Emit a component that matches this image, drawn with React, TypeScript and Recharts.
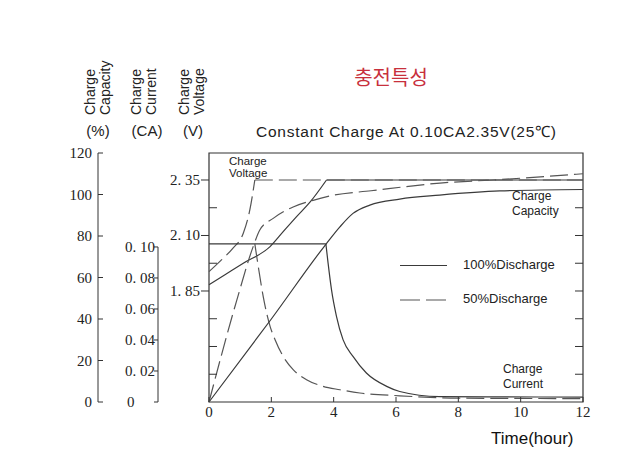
import { LineChart, Line, XAxis, YAxis, ReferenceArea } from 'recharts'

const W = 612
const H = 459
const M = { top: 145, right: 37, bottom: 35, left: 50 }
const X_AXIS_H = 30
const VOLT_W = 51
const CUR_W = 60
const CAP_W = 40
const PLOT_H = H - M.top - M.bottom - X_AXIS_H
const PLOT_W = W - M.left - VOLT_W - CUR_W - CAP_W - M.right

// left axes are laid out in id order, first id next to the plot
const VOLT_ID = 'a_volt'
const CUR_ID = 'b_cur'
const CAP_ID = 'c_cap'

// axis ticks
const hourTicks = [0, 2, 4, 6, 8, 10, 12]
const capTicks = [0, 20, 40, 60, 80, 100, 120]
const curTicks = [0, 0.02, 0.04, 0.06, 0.08, 0.1]
const voltTicks = [1.35, 1.475, 1.6, 1.725, 1.85, 1.975, 2.1, 2.225, 2.35]
const voltLabeled = [1.85, 2.1, 2.35]
const CUR_MAX = 0.1606
const VOLT_MIN = 1.35
const VOLT_MAX = 2.4716

// 100% discharge
const volt100Hours = [0, 0.5, 1.1, 1.96, 2.38, 2.81, 3.24, 3.77]
const volt100Values = [1.878, 1.922, 1.975, 2.05, 2.117, 2.185, 2.25, 2.35]
const volt100FlatHours = [3.77, 12]
const volt100FlatValues = [2.35, 2.35]
const cur100FlatHours = [0, 3.75]
const cur100FlatValues = [0.102, 0.102]
const cur100Hours = [3.75, 3.82, 3.93, 4.09, 4.3, 4.62, 5.05, 5.7, 6.12, 7.4, 9, 12]
const cur100Values = [0.102, 0.0897, 0.0725, 0.0553, 0.0402, 0.0294, 0.0187, 0.0101, 0.0068, 0.0035, 0.0033, 0.0032]
const cap100Hours = [0, 2, 3.75, 4.2, 4.62, 5.16, 6.12, 7.4, 9.33, 12]
const cap100Values = [0, 40, 76, 84.4, 90.9, 94.9, 97.8, 99.7, 101.7, 102.4]

// 50% discharge
const volt50Hours = [0, 0.4, 0.77, 1.1, 1.31, 1.47]
const volt50Values = [1.937, 1.99, 2.043, 2.11, 2.215, 2.35]
const volt50FlatHours = [1.47, 12]
const volt50FlatValues = [2.35, 2.35]
const cur50Hours = [1.47, 1.58, 1.74, 1.96, 2.12, 2.38, 2.7, 3.13, 3.66, 4.2, 4.84, 6.12, 8, 12]
const cur50Values = [0.102, 0.0875, 0.068, 0.0488, 0.0402, 0.0294, 0.0209, 0.0144, 0.0101, 0.0079, 0.0058, 0.004, 0.0025, 0.0022]
const cap50Hours = [0, 0.89, 1.42, 1.63, 2.06, 2.7, 3.34, 3.98, 5.2, 7.41, 9.33, 12]
const cap50Values = [0, 49, 75, 82.9, 88.5, 94, 97.2, 99.6, 101.8, 105.5, 107.2, 110]

const pts = (hours: number[], values: number[]) => hours.map((t, i) => ({ t, v: values[i] }))

const INK = '#333'
const SERIF = '"Liberation Serif", "DejaVu Serif", serif'
const SANS = '"Liberation Sans", Arial, sans-serif'
const solid = { stroke: '#3a3a3a', strokeWidth: 1.2 }
const dashed = { stroke: '#555', strokeWidth: 1.2, strokeDasharray: '18 6' }

const curStep = (PLOT_H * 0.02) / CUR_MAX

function CapTick({ x, y, payload }: any) {
  return (
    <g>
      <line x1={x} y1={y} x2={x + 5} y2={y} stroke={INK} />
      <text x={x - 6} y={y + 5} textAnchor="end" fontFamily={SERIF} fontSize={15} fill="#222">
        {payload.value}
      </text>
    </g>
  )
}

function CurTick({ x, y, payload }: any) {
  const v = payload.value
  const label = v === 0 ? '0' : v.toFixed(2).replace('.', '. ')
  return (
    <g>
      <line x1={x - 4} y1={y} x2={x} y2={y} stroke={INK} />
      {v > 0 && <line x1={x} y1={y} x2={x} y2={y + curStep} stroke={INK} />}
      <text x={v === 0 ? x - 31 : x - 33} y={y + 5} textAnchor="start" fontFamily={SERIF} fontSize={15} fill="#222">
        {label}
      </text>
    </g>
  )
}

function VoltTick({ x, y, payload }: any) {
  const v = payload.value
  const labeled = voltLabeled.some((l) => Math.abs(l - v) < 1e-6)
  const edge = Math.abs(v - VOLT_MIN) < 1e-6
  return (
    <g>
      {labeled && <line x1={x - 8} y1={y} x2={x} y2={y} stroke={INK} />}
      {!labeled && !edge && <line x1={x} y1={y} x2={x + 8} y2={y} stroke={INK} />}
      {!edge && Math.abs(v - 2.35) > 1e-6 && (
        <line x1={x + PLOT_W - 8} y1={y} x2={x + PLOT_W} y2={y} stroke={INK} />
      )}
      {labeled && (
        <text x={x - 9} y={y + 5} textAnchor="end" fontFamily={SERIF} fontSize={15} fill="#222">
          {v.toFixed(2).replace('.', '. ')}
        </text>
      )}
    </g>
  )
}

function HourTick({ x, y, payload }: any) {
  return (
    <g>
      <line x1={x} y1={y} x2={x} y2={y - 5} stroke={INK} />
      <text x={x} y={y + 15} textAnchor="middle" fontFamily={SERIF} fontSize={15} fill="#222">
        {payload.value}
      </text>
    </g>
  )
}

function RotLabel({ x, y, text }: { x: number; y: number; text: string }) {
  return (
    <text x={x} y={y} transform={`rotate(-90 ${x} ${y})`} fontFamily={SANS} fontSize={14} fill="#222">
      {text}
    </text>
  )
}

export default function App() {
  return (
    <div style={{ position: 'relative', width: W, height: H }}>
      <LineChart width={W} height={H} margin={M}>
        <XAxis
          dataKey="t"
          type="number"
          domain={[0, 12]}
          ticks={hourTicks}
          height={X_AXIS_H}
          axisLine={false}
          tickLine={false}
          tickSize={0}
          tickMargin={0}
          tick={(p: any) => <HourTick {...p} />}
        />
        <YAxis
          yAxisId={VOLT_ID}
          type="number"
          domain={[VOLT_MIN, VOLT_MAX]}
          ticks={voltTicks}
          width={VOLT_W}
          axisLine={false}
          tickLine={false}
          tickSize={0}
          tickMargin={0}
          interval={0}
          tick={(p: any) => <VoltTick {...p} />}
        />
        <YAxis
          yAxisId={CUR_ID}
          type="number"
          domain={[0, CUR_MAX]}
          ticks={curTicks}
          width={CUR_W}
          axisLine={false}
          tickLine={false}
          tickSize={0}
          tickMargin={0}
          interval={0}
          tick={(p: any) => <CurTick {...p} />}
        />
        <YAxis
          yAxisId={CAP_ID}
          type="number"
          domain={[0, 120]}
          ticks={capTicks}
          width={CAP_W}
          axisLine={{ stroke: INK }}
          tickLine={false}
          tickSize={0}
          tickMargin={0}
          interval={0}
          tick={(p: any) => <CapTick {...p} />}
        />
        <ReferenceArea yAxisId={CAP_ID} x1={0} x2={12} y1={0} y2={120} fill="none" stroke={INK} strokeWidth={1.2} />

        <Line yAxisId={VOLT_ID} data={pts(volt100Hours, volt100Values)} dataKey="v" type="monotone" dot={false} activeDot={false} isAnimationActive={false} {...solid} />
        <Line yAxisId={VOLT_ID} data={pts(volt100FlatHours, volt100FlatValues)} dataKey="v" type="linear" dot={false} activeDot={false} isAnimationActive={false} {...solid} />
        <Line yAxisId={VOLT_ID} data={pts(volt50Hours, volt50Values)} dataKey="v" type="monotone" dot={false} activeDot={false} isAnimationActive={false} {...dashed} />
        <Line yAxisId={VOLT_ID} data={pts(volt50FlatHours, volt50FlatValues)} dataKey="v" type="linear" dot={false} activeDot={false} isAnimationActive={false} {...dashed} />

        <Line yAxisId={CUR_ID} data={pts(cur100FlatHours, cur100FlatValues)} dataKey="v" type="linear" dot={false} activeDot={false} isAnimationActive={false} {...solid} />
        <Line yAxisId={CUR_ID} data={pts(cur100Hours, cur100Values)} dataKey="v" type="monotone" dot={false} activeDot={false} isAnimationActive={false} {...solid} />
        <Line yAxisId={CUR_ID} data={pts(cur50Hours, cur50Values)} dataKey="v" type="monotone" dot={false} activeDot={false} isAnimationActive={false} {...dashed} />

        <Line yAxisId={CAP_ID} data={pts(cap100Hours, cap100Values)} dataKey="v" type="monotone" dot={false} activeDot={false} isAnimationActive={false} {...solid} />
        <Line yAxisId={CAP_ID} data={pts(cap50Hours, cap50Values)} dataKey="v" type="monotone" dot={false} activeDot={false} isAnimationActive={false} {...dashed} />
      </LineChart>

      <svg width={W} height={H} style={{ position: 'absolute', left: 0, top: 0, pointerEvents: 'none' }}>
        <text x={383} y={77} textAnchor="middle" fontFamily='"Noto Sans CJK KR", sans-serif' fontSize={20} fill="#c8303c">
          충전특성
        </text>
        <text x={248} y={129} fontFamily={SANS} fontSize={15.5} fill="#222" textLength={300} lengthAdjust="spacing">
          Constant Charge At 0.10CA2.35V(25℃)
        </text>

        <RotLabel x={87} y={107} text="Charge" />
        <RotLabel x={102} y={107} text="Capacity" />
        <RotLabel x={133} y={107} text="Charge" />
        <RotLabel x={148} y={107} text="Current" />
        <RotLabel x={181} y={107} text="Charge" />
        <RotLabel x={196} y={107} text="Voltage" />
        <text x={90} y={128} textAnchor="middle" fontFamily={SANS} fontSize={15} fill="#222">(%)</text>
        <text x={139} y={128} textAnchor="middle" fontFamily={SANS} fontSize={15} fill="#222">(CA)</text>
        <text x={185} y={128} textAnchor="middle" fontFamily={SANS} fontSize={15} fill="#222">(V)</text>

        <g fontFamily={SANS} fontSize={12} fill="#222">
          <text x={221} y={156.5} fontSize={11.5}>Charge</text>
          <text x={221} y={169} fontSize={11.5}>Voltage</text>
          <text x={504} y={192}>Charge</text>
          <text x={504} y={207}>Capacity</text>
          <text x={495} y={365}>Charge</text>
          <text x={495} y={380}>Current</text>
        </g>

        <line x1={392} y1={257.5} x2={439} y2={257.5} {...solid} />
        <line x1={392} y1={292} x2={439} y2={292} stroke="#555" strokeWidth={1.2} strokeDasharray="20 6" />
        <text x={455} y={261} fontFamily={SANS} fontSize={13} fill="#222">100%Discharge</text>
        <text x={455} y={295} fontFamily={SANS} fontSize={13} fill="#222">50%Discharge</text>

        <text x={483} y={436} fontFamily={SANS} fontSize={17} fill="#111">Time(hour)</text>
      </svg>
    </div>
  )
}
